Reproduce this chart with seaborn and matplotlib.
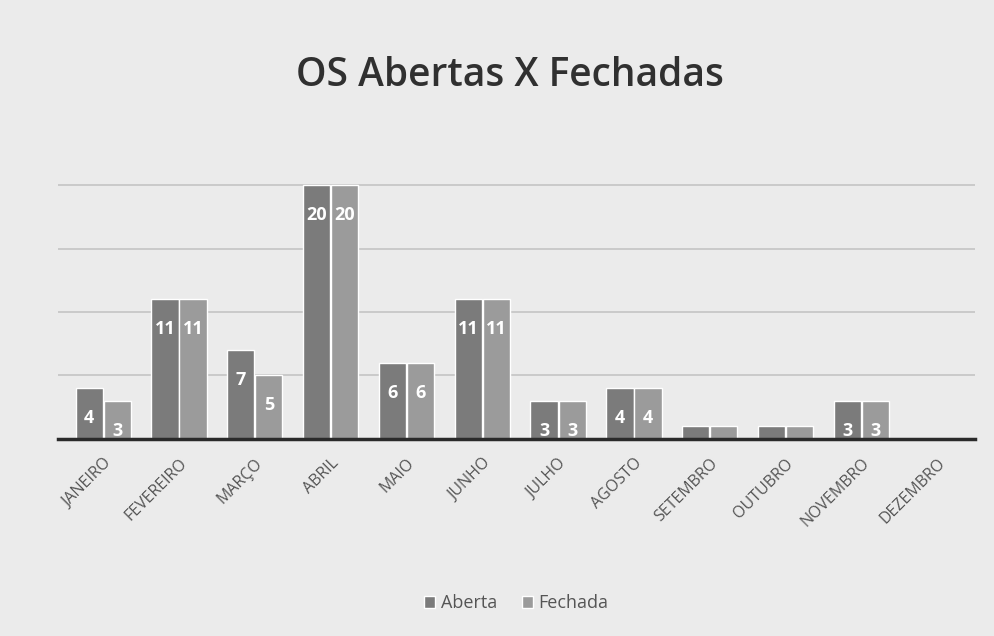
import matplotlib
matplotlib.use("Agg")
import matplotlib.pyplot as plt
import seaborn as sns
import pandas as pd

meses = ["JANEIRO", "FEVEREIRO", "MARÇO", "ABRIL", "MAIO", "JUNHO", "JULHO",
         "AGOSTO", "SETEMBRO", "OUTUBRO", "NOVEMBRO", "DEZEMBRO"]
abertas = [4, 11, 7, 20, 6, 11, 3, 4, 1, 1, 3, 0]
fechadas = [3, 11, 5, 20, 6, 11, 3, 4, 1, 1, 3, 0]
series = ["Aberta", "Fechada"]

df = pd.DataFrame({
    "mes": meses * 2,
    "valor": abertas + fechadas,
    "tipo": [series[0]] * len(meses) + [series[1]] * len(meses),
})

sns.set_theme(style="white")
plt.rcParams["font.family"] = ["Open Sans", "DejaVu Sans"]

bg = "#ebebeb"
fig = plt.figure(figsize=(9.95, 6.36), dpi=100, facecolor=bg)
ax = fig.add_axes([0.058, 0.31, 0.922, 0.405])
ax.set_facecolor(bg)

palette = {"Aberta": "#7b7b7b", "Fechada": "#9b9b9b"}
sns.barplot(data=df, x="mes", y="valor", hue="tipo", palette=palette,
            width=0.74, gap=0.03, ax=ax, legend=True, saturation=1)

for cont in ax.containers:
    labels = [f"{int(b.get_height())}" if b.get_height() >= 2 else "" for b in cont]
    ax.bar_label(cont, labels=labels, label_type="edge", padding=-28,
                 color="white", fontsize=13, fontweight="bold")

ax.set_ylim(0, 20.3)
ax.set_yticks([5, 10, 15, 20])
ax.yaxis.grid(True, color="#c4c4c4", linewidth=1.2)
ax.set_axisbelow(True)
ax.tick_params(axis="y", left=False, labelleft=False)
ax.set_xlabel("")
ax.set_ylabel("")
for s in ["top", "right", "left"]:
    ax.spines[s].set_visible(False)
ax.spines["bottom"].set_color("#2a2a2a")
ax.spines["bottom"].set_linewidth(2.5)
ax.set_xlim(-0.6, 11.5)

ax.set_xticks(range(len(meses)))
ax.set_xticklabels(meses, rotation=45, ha="right", rotation_mode="anchor",
                   fontsize=11.5, color="#555555")
ax.tick_params(axis="x", bottom=False, pad=6)

ax.legend(loc="upper center", bbox_to_anchor=(0.5, -0.54), ncol=2, frameon=False,
          fontsize=13, handlelength=0.6, handleheight=0.6, handletextpad=0.3,
          columnspacing=1.4, labelcolor="#555555")

fig.text(0.513, 0.88, "OS Abertas X Fechadas", ha="center", va="center",
         fontsize=28, fontweight="semibold", color="#303030")

fig.savefig("out.png", dpi=100, facecolor=bg)
